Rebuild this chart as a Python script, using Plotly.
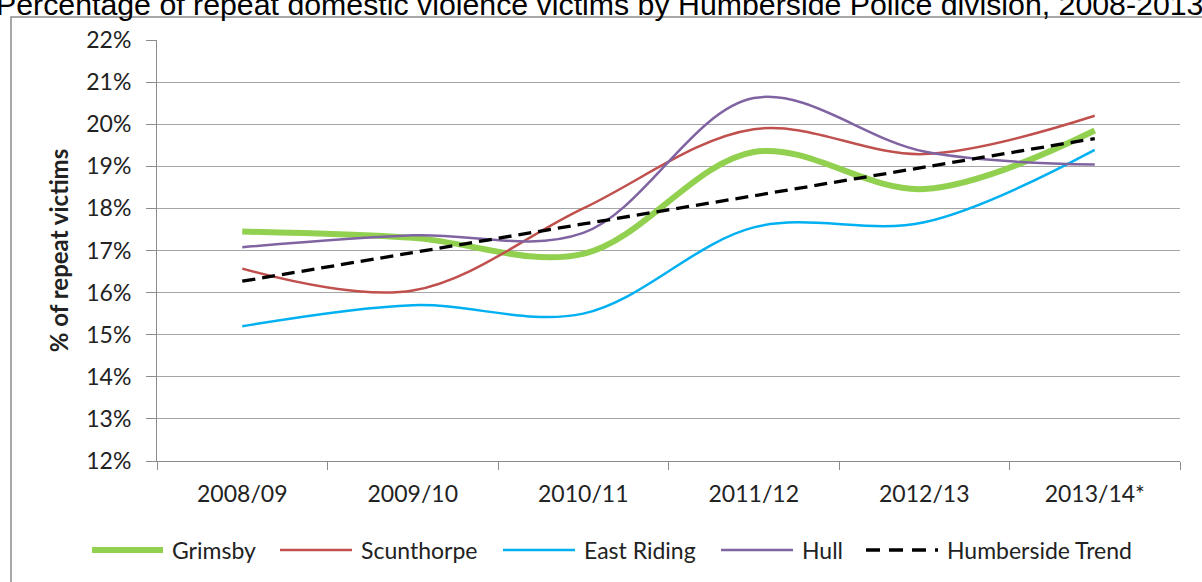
import plotly.graph_objects as go

# ---- data ----
categories = ["2008/09", "2009/10", "2010/11", "2011/12", "2012/13", "2013/14*"]
grimsby = [17.45, 17.30, 16.92, 19.34, 18.46, 19.85]
scunthorpe = [16.57, 16.05, 18.00, 19.88, 19.29, 20.20]
east_riding = [15.20, 15.70, 15.50, 17.55, 17.67, 19.39]
hull = [17.08, 17.36, 17.42, 20.62, 19.35, 19.04]
humberside_trend = [16.27, 16.95, 17.63, 18.30, 18.98, 19.66]
y_ticks = [12, 13, 14, 15, 16, 17, 18, 19, 20, 21, 22]
y_tick_labels = ["12%", "13%", "14%", "15%", "16%", "17%", "18%", "19%", "20%", "21%", "22%"]

title_text = "Percentage of repeat domestic violence victims by Humberside Police division, 2008-2013"

# ---- layout geometry (pixels) ----
W, H = 1202, 582
L, R, T, B = 157, 22, 40, 121
PW, PH = W - L - R, H - T - B


def px2x(px):
    return (px - L) / PW


def py2y(py):
    return (H - B - py) / PH


FONT = "Lato"
TXT = "#222222"

series = [
    ("Grimsby", grimsby, "#92D050", 6, "solid"),
    ("Scunthorpe", scunthorpe, "#C0504D", 2.5, "solid"),
    ("East Riding", east_riding, "#00B0F0", 2.5, "solid"),
    ("Hull", hull, "#8064A2", 2.5, "solid"),
    ("Humberside Trend", humberside_trend, "#000000", 3.3, "13px,7px"),
]

fig = go.Figure()
for name, vals, color, width, dash in series:
    fig.add_trace(go.Scatter(
        x=categories, y=vals, name=name, mode="lines",
        line=dict(color=color, width=width, dash=dash, shape="spline", smoothing=1.0),
        showlegend=False,
    ))

# custom legend (long line samples like the original)
legend_items = [
    (92, 163, 170),
    (280, 352, 359),
    (503, 575, 582),
    (721, 793, 800),
    (866, 938, 945),
]
shapes = []
annotations = []
ly = py2y(550)
for (name, vals, color, width, dash), (x0, x1, xt) in zip(series, legend_items):
    shapes.append(dict(type="line", xref="paper", yref="paper",
                       x0=px2x(x0), x1=px2x(x1), y0=ly, y1=ly,
                       line=dict(color=color, width=width,
                                 dash=("14px,9px" if dash != "solid" else "solid"))))
    annotations.append(dict(text=name, xref="paper", yref="paper", x=px2x(xt), y=ly,
                            xanchor="left", yanchor="middle", showarrow=False,
                            font=dict(family=FONT, size=23, color=TXT)))

# outer chart frame
shapes.append(dict(type="rect", xref="paper", yref="paper",
                   x0=px2x(11), x1=px2x(1215), y0=py2y(600), y1=py2y(17),
                   line=dict(color="#8C8C8C", width=1.5), fillcolor="rgba(0,0,0,0)", layer="below"))

# cut-off title at the very top
annotations.append(dict(text=title_text, xref="paper", yref="paper",
                        x=px2x(599), y=py2y(5), xanchor="center", yanchor="middle",
                        showarrow=False,
                        font=dict(family="Liberation Sans", size=30.3, color="#000000")))

fig.update_layout(
    width=W, height=H,
    margin=dict(l=L, r=R, t=T, b=B, pad=0, autoexpand=False),
    paper_bgcolor="white", plot_bgcolor="white",
    shapes=shapes, annotations=annotations,
    showlegend=False,
    xaxis=dict(
        type="category", range=[-0.5, 5.5],
        showgrid=False, showline=True, linecolor="#8C8C8C", linewidth=1,
        ticks="outside", tickson="boundaries", ticklen=8, tickcolor="#8C8C8C",
        tickfont=dict(family=FONT, size=23, color=TXT),
        ticklabelstandoff=12,
    ),
    yaxis=dict(
        range=[12, 22], tickvals=y_ticks, ticktext=y_tick_labels,
        showgrid=True, gridcolor="#A6A6A6", gridwidth=1,
        showline=True, linecolor="#8C8C8C", linewidth=1,
        ticks="outside", ticklen=10, tickcolor="#8C8C8C",
        tickfont=dict(family=FONT, size=23, color=TXT),
        ticklabelstandoff=10,
        zeroline=False,
        title=dict(text="<b>% of repeat victims</b>", standoff=10,
                   font=dict(family=FONT, size=24, color=TXT)),
    ),
)

fig.write_html(
    "out.html",
    config={"displayModeBar": False},
    post_script="document.body.style.margin='0';document.body.style.overflow='hidden';",
)
